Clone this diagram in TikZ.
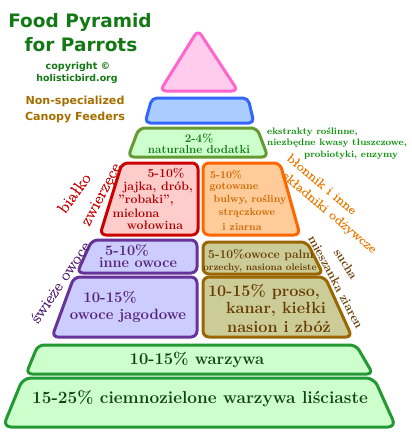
\documentclass[tikz,border=0pt]{standalone}
\usepackage{fontspec}
\newfontfamily\titlefont{DejaVu Sans}
\newfontfamily\sidefont[FakeBold=0.8,FakeStretch=1.15]{Latin Modern Roman}
\definecolor{titlegreen}{RGB}{20,120,20}
\definecolor{canopy}{RGB}{165,110,0}
\definecolor{pinkline}{RGB}{255,102,204}
\definecolor{pinkfill}{RGB}{255,204,238}
\definecolor{blueline}{RGB}{51,102,255}
\definecolor{bluefill}{RGB}{170,204,255}
\definecolor{olive}{RGB}{102,153,51}
\definecolor{mint}{RGB}{204,255,204}
\definecolor{redline}{RGB}{204,0,0}
\definecolor{redfill}{RGB}{255,204,204}
\definecolor{redtext}{RGB}{170,0,0}
\definecolor{orangeline}{RGB}{255,102,0}
\definecolor{orangefill}{RGB}{255,204,153}
\definecolor{orangetext}{RGB}{204,102,0}
\definecolor{orangeside}{RGB}{235,120,0}
\definecolor{purpleline}{RGB}{102,51,153}
\definecolor{purplefill}{RGB}{204,204,255}
\definecolor{purpletext}{RGB}{85,34,119}
\definecolor{brownline}{RGB}{153,102,0}
\definecolor{brownfill}{RGB}{204,204,153}
\definecolor{browntext}{RGB}{102,60,0}
\definecolor{greenline}{RGB}{34,153,51}
\definecolor{greentext}{RGB}{17,68,17}
\definecolor{sidegreen}{RGB}{0,140,0}
\begin{document}
\begin{tikzpicture}[x=1pt,y=-1pt,
    layer/.style={line width=3pt, rounded corners=6pt, line join=round},
    boxtext/.style={font=\bfseries\fontsize{#1}{#1}\selectfont, inner sep=0pt},
    sidetext/.style={font=\sidefont\fontsize{#1}{#1}\selectfont, inner sep=0pt},
    headtext/.style={font=\titlefont\bfseries\fontsize{#1}{#1}\selectfont, inner sep=0pt, text=titlegreen}
  ]
  \useasboundingbox (0,0) rectangle (412,445);

  % title
  \node[headtext=18.5] (title1) at (80,22) {Food Pyramid};
  \node[headtext=18.5] (title2) at (81,45) {for Parrots};
  \node[headtext=9.6] (copy1) at (78,67) {copyright ©};
  \node[headtext=9.4] (copy2) at (77,79) {holisticbird.org};
  \node[headtext=11.1, text=canopy] (feed1) at (75,101) {Non-specialized};
  \node[headtext=11.1, text=canopy] (feed2) at (75,117) {Canopy Feeders};

  % top layers
  \draw[layer, draw=pinkline, fill=pinkfill] (198,30) -- (238,91) -- (160,91) -- cycle;
  \draw[layer, draw=blueline, fill=bluefill, rounded corners=5pt] (152,98) -- (248,98) -- (254,123) -- (145,123) -- cycle;
  \draw[layer, draw=olive, fill=mint] (139,128) -- (257,128) -- (268,157) -- (128,157) -- cycle;
  \node[boxtext=11.6, text=titlegreen] (add1) at (199,138) {2-4\%};
  \node[boxtext=11.6, text=titlegreen] (add2) at (199,150) {naturalne dodatki};
  \node[boxtext=9.4, text=sidegreen, anchor=west] (side1) at (267,132) {ekstrakty roślinne,};
  \node[boxtext=9.4, text=sidegreen, anchor=west] (side2) at (267,143) {niezbędne kwasy tłuszczowe,};
  \node[boxtext=9.4, text=sidegreen] (side3) at (351,155) {probiotyki, enzymy};

  % animal protein
  \draw[layer, draw=redline, fill=redfill] (122,163) -- (198,163) -- (198,235) -- (100,235) -- cycle;
  \node[boxtext=12.3, text=redtext] (meat1) at (166,173) {5-10\%};
  \node[boxtext=12.3, text=redtext] (meat2) at (158,187) {jajka, drób,};
  \node[boxtext=12.3, text=redtext] (meat3) at (146,200) {"robaki",};
  \node[boxtext=12.3, text=redtext] (meat4) at (136,213) {mielona};
  \node[boxtext=12.3, text=redtext] (meat5) at (155,225) {wołowina};
  \node[sidetext=16, text=redline, rotate=54] (protein1) at (74,193) {białko};
  \node[sidetext=16, text=redline, rotate=62] (protein2) at (102,195) {zwierzęce};

  % cooked food
  \draw[layer, draw=orangeline, fill=orangefill] (203,163) -- (280,163) -- (300,235) -- (203,235) -- cycle;
  \node[boxtext=10.4, text=orangetext] (cook1) at (226,175) {5-10\%};
  \node[boxtext=10.4, text=orangetext] (cook2) at (234,187) {gotowane};
  \node[boxtext=10.4, text=orangetext] (cook3) at (250,200) {bulwy, rośliny};
  \node[boxtext=10.4, text=orangetext] (cook4) at (247,213) {strączkowe};
  \node[boxtext=10.4, text=orangetext] (cook5) at (242,227) {i ziarna};
  \node[sidetext=12.6, text=orangeside, rotate=-40] (fibre1) at (322,184) {błonnik i inne};
  \node[sidetext=12.6, text=orangeside, rotate=-40] (fibre2) at (329,213) {składniki odżywcze};

  % fruit
  \draw[layer, draw=purpleline, fill=purplefill] (92,240) -- (197,240) -- (197,273) -- (77,273) -- cycle;
  \draw[layer, draw=purpleline, fill=purplefill] (74,277) -- (197,277) -- (197,337) -- (52,337) -- cycle;
  \node[boxtext=14.5, text=purpletext] (fruit1) at (127,250) {5-10\%};
  \node[boxtext=14.5, text=purpletext] (fruit2) at (138,263) {inne owoce};
  \node[boxtext=14.9, text=purpletext] (berry1) at (110,297) {10-15\%};
  \node[boxtext=14.9, text=purpletext] (berry2) at (128,316) {owoce jagodowe};
  \node[sidetext=15.8, text=purpletext, rotate=56] (fresh) at (60,282) {świeże owoce};

  % seeds and nuts
  \draw[layer, draw=brownline, fill=brownfill] (203,242) -- (307,242) -- (323,274) -- (203,274) -- cycle;
  \draw[layer, draw=brownline, fill=brownfill] (203,277) -- (325,277) -- (352,337) -- (203,337) -- cycle;
  \node[boxtext=12.1, text=browntext] (palm1) at (261,255) {5-10\%owoce palm};
  \node[boxtext=9.7, text=browntext] (palm2) at (260,268) {orzechy, nasiona oleiste};
  \node[boxtext=16.2, text=browntext] (seed1) at (264,292) {10-15\% proso,};
  \node[boxtext=16.2, text=browntext] (seed2) at (276,309) {kanar, kiełki};
  \node[boxtext=16.2, text=browntext] (seed3) at (279,327) {nasion i zbóż};
  \node[boxtext=12.4, text=browntext, rotate=-58] (dry1) at (346,264) {sucha};
  \node[boxtext=12.4, text=browntext, rotate=-62] (dry2) at (336,282) {mieszanka ziaren};

  % vegetables
  \draw[layer, draw=greenline, fill=mint] (38,345) -- (356,345) -- (373,374) -- (26,374) -- cycle;
  \draw[layer, draw=greenline, fill=mint, rounded corners=8pt] (23,378) -- (374,378) -- (396,427) -- (3,427) -- cycle;
  \node[boxtext=16.5, text=greentext] (veg1) at (197,360) {10-15\% warzywa};
  \node[boxtext=17.2, text=greentext] (veg2) at (200,399) {15-25\% ciemnozielone warzywa liściaste};
\end{tikzpicture}
\end{document}
